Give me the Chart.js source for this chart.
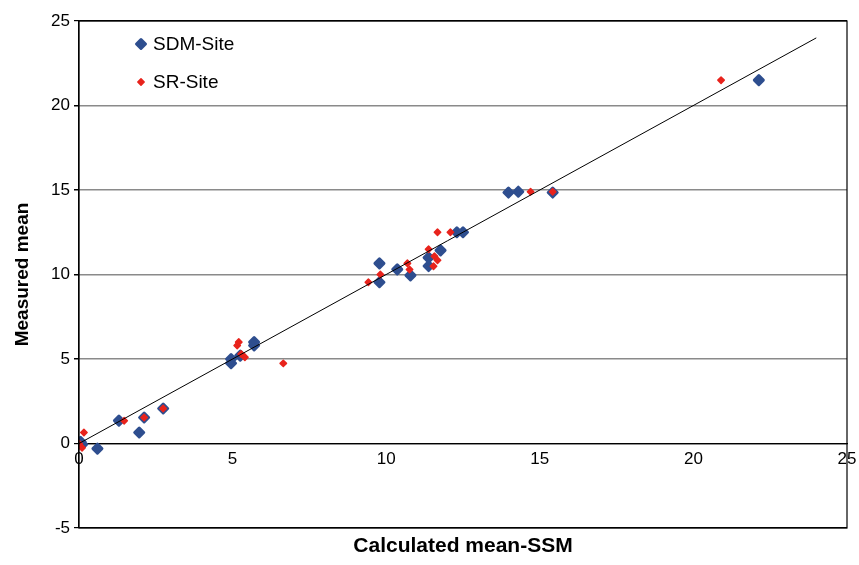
<!DOCTYPE html>
<html>
<head>
<meta charset="utf-8">
<script src="https://cdn.jsdelivr.net/npm/chart.js@4/dist/chart.umd.min.js"></script>
<style>
  html, body { margin: 0; padding: 0; background: #fff; }
  #wrap { width: 859px; height: 565px; }
</style>
</head>
<body>
<div id="wrap"><canvas id="c" width="859" height="565"></canvas></div>
<script>
// ---- data ----
const sdmX = [0, 0.05, 0.1, 0.6, 1.3, 1.96, 2.12, 2.74, 4.95, 4.95, 5.25, 5.7, 5.7,
  9.78, 9.78, 10.36, 10.79, 11.38, 11.38, 11.77, 12.3, 12.5, 13.98, 14.3, 15.42, 22.13]
const sdmY = [0, 0.1, -0.05, -0.3, 1.35, 0.65, 1.54, 2.07, 4.75, 5.0, 5.2, 5.8, 6.0,
  10.66, 9.54, 10.3, 9.95, 11.0, 10.5, 11.43, 12.5, 12.5, 14.85, 14.9, 14.85, 21.5]

const srX = [0, 0.1, 0.16, 1.47, 2.12, 2.74, 5.15, 5.2, 5.28, 5.4, 6.65,
  9.42, 9.81, 10.69, 10.76, 11.38, 11.57, 11.67, 11.54, 11.67, 12.09, 14.7, 15.42, 20.9]
const srY = [0, -0.25, 0.65, 1.35, 1.54, 2.07, 5.8, 6.0, 5.3, 5.1, 4.74,
  9.54, 10.0, 10.66, 10.3, 11.49, 11.08, 10.84, 10.49, 12.5, 12.5, 14.9, 14.9, 21.5]

const fitX = [0, 24]
const fitY = [0, 24]

const seriesNames = ['SDM-Site', 'SR-Site']
const xTitle = 'Calculated mean-SSM'
const yTitle = 'Measured mean'

const BLUE = '#2e4e8f'
const RED = '#e8231c'
const FONT = 'Arial, "Liberation Sans", sans-serif'

const toPoints = (xs, ys) => xs.map((x, i) => ({ x, y: ys[i] }))

// round the marker corners (Excel-like soft diamonds)
const softMarkers = {
  id: 'softMarkers',
  beforeDatasetsDraw(chart) {
    chart.ctx.save()
    chart.ctx.lineJoin = 'round'
  },
  afterDatasetsDraw(chart) {
    chart.ctx.restore()
  },
}

// frame around the plot + in-plot legend + bottom title
const decorations = {
  id: 'decorations',
  afterDraw(chart) {
    const { ctx, chartArea: a } = chart
    ctx.save()
    ctx.strokeStyle = '#000'
    ctx.lineWidth = 1.2
    ctx.strokeRect(a.left, a.top, a.right - a.left, a.bottom - a.top)

    const items = [
      { label: seriesNames[0], color: BLUE, r: 4.5, bw: 3, y: 44 },
      { label: seriesNames[1], color: RED, r: 3.2, bw: 1.5, y: 82 },
    ]
    ctx.font = '19px ' + FONT
    ctx.textBaseline = 'middle'
    ctx.textAlign = 'left'
    ctx.lineJoin = 'round'
    for (const it of items) {
      ctx.fillStyle = it.color
      ctx.strokeStyle = it.color
      ctx.lineWidth = it.bw
      Chart.helpers.drawPoint(ctx, { pointStyle: 'rectRot', radius: it.r, borderWidth: it.bw, rotation: 0 }, 141, it.y)
      ctx.fillStyle = '#000'
      ctx.fillText(it.label, 153, it.y + 1)
    }

    ctx.font = 'bold 21px ' + FONT
    ctx.textAlign = 'center'
    ctx.fillStyle = '#000'
    ctx.fillText(xTitle, (a.left + a.right) / 2, 546)
    ctx.restore()
  },
}

new Chart(document.getElementById('c'), {
  type: 'scatter',
  data: {
    datasets: [
      {
        label: 'fit',
        type: 'line',
        data: toPoints(fitX, fitY),
        borderColor: '#000',
        borderWidth: 1,
        pointRadius: 0,
        fill: false,
        order: 0,
      },
      {
        label: seriesNames[0],
        data: toPoints(sdmX, sdmY),
        pointStyle: 'rectRot',
        pointRadius: 4.5,
        backgroundColor: BLUE,
        borderColor: BLUE,
        borderWidth: 3,
        order: 2,
      },
      {
        label: seriesNames[1],
        data: toPoints(srX, srY),
        pointStyle: 'rectRot',
        pointRadius: 3.2,
        backgroundColor: RED,
        borderColor: RED,
        borderWidth: 1.5,
        order: 1,
      },
    ],
  },
  options: {
    responsive: false,
    animation: false,
    layout: { padding: { top: 21, right: 12, bottom: 37, left: 0 } },
    plugins: {
      legend: { display: false },
      tooltip: { enabled: false },
    },
    scales: {
      x: {
        type: 'linear',
        position: { y: 0 },
        min: 0,
        max: 25,
        ticks: { stepSize: 5, color: '#000', font: { family: FONT, size: 17 }, padding: 6 },
        grid: { display: false, drawTicks: false },
        border: { display: true, color: '#000', width: 1.2 },
        afterFit(scale) {
          scale.paddingLeft = 0
          scale.paddingRight = 0
        },
      },
      y: {
        type: 'linear',
        position: 'left',
        min: -5,
        max: 25,
        ticks: { stepSize: 5, color: '#000', font: { family: FONT, size: 17 }, padding: 4 },
        grid: {
          color: ctx => ([-5, 0, 25].includes(ctx.tick && ctx.tick.value) ? '#000' : '#8a8a8a'),
          lineWidth: ctx => ([-5, 0, 25].includes(ctx.tick && ctx.tick.value) ? 1.2 : 1.5),
          tickColor: '#000',
          tickLength: 5,
        },
        border: { display: true, color: '#000', width: 1.2 },
        title: {
          display: true,
          text: yTitle,
          color: '#000',
          font: { family: FONT, size: 19, weight: 'bold' },
          padding: { top: 11, bottom: 0 },
        },
        afterFit(scale) { scale.width = 79 },
      },
    },
  },
  plugins: [softMarkers, decorations],
})
</script>
</body>
</html>
